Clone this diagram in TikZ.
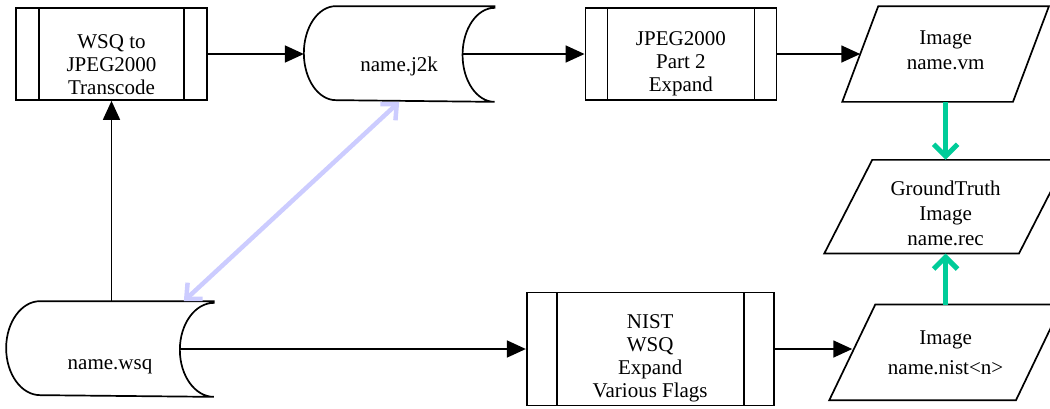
\documentclass[tikz,border=0pt]{standalone}
\usepackage{fontspec}
\setmainfont{Liberation Serif}
\usepackage{xcolor}
\usepackage{tikz}
\usetikzlibrary{arrows.meta, positioning, calc}

\definecolor{flowgreen}{HTML}{00CC99}
\definecolor{linklilac}{HTML}{CCCCFF}

\newcommand{\tstrut}[1]{\rule{0pt}{#1}}
\newcommand{\bstrut}[1]{\rule[-#1]{0pt}{#1}}
% stored data outline round a named node
\newcommand{\storeline}[2]{\draw (#1.north east) -- ([xshift=#2]#1.north west)
    arc[start angle=90, end angle=270, x radius=#2, y radius=47pt] -- (#1.south east)
    arc[start angle=270, end angle=90, x radius=#2, y radius=47pt] -- cycle;}
% parallelogram outline round a named node
\newcommand{\paraline}[2]{\draw ([xshift=#2/2]#1.north west) -- ([xshift=#2/2]#1.north east)
    -- ([xshift=-#2/2]#1.south east) -- ([xshift=-#2/2]#1.south west) -- cycle;}

\begin{document}
\begin{tikzpicture}[x=1pt, y=1pt, >={Triangle[length=19pt,width=17pt]}, line width=1.7pt]
    \tikzstyle{proc} = [rectangle, draw, inner sep=0pt, align=center, font=\fontsize{21}{23}\selectfont]
    \tikzstyle{store} = [rectangle, inner sep=0pt, align=center, font=\fontsize{21}{23}\selectfont]
    \tikzstyle{data} = [rectangle, inner sep=0pt, align=center, font=\fontsize{21}{23}\selectfont]
    \tikzstyle{green} = [flowgreen, line width=5pt, -{Straight Barb[length=12pt,width=24pt]}]
    \tikzset{bars/.style={path picture={
        \draw ([xshift=#1]path picture bounding box.north west) -- ([xshift=#1]path picture bounding box.south west);
        \draw ([xshift=-#1]path picture bounding box.north east) -- ([xshift=-#1]path picture bounding box.south east);}}}

    \useasboundingbox (0,0) rectangle (1050,-408);
    \clip (0,0) rectangle (1050,-408);

    \node [proc, bars=23pt, minimum width=191pt, minimum height=92pt] (tc) at (111.5,-54) {\tstrut{39pt}WSQ to\\JPEG2000\\Transcode\bstrut{5pt}};
    \node [store, minimum width=189pt, minimum height=94pt, right=96pt of tc] (j2k) {\tstrut{39pt}name.j2k\bstrut{5pt}};
    \node [proc, bars=22pt, minimum width=191pt, minimum height=92pt, right=90pt of j2k] (exp2) {\tstrut{33pt}JPEG2000\\Part 2\\Expand\bstrut{5pt}};
    \node [data, minimum width=169pt, minimum height=94pt, right=83pt of exp2] (vm) {\tstrut{15pt}Image\\[2pt]name.vm\bstrut{10pt}};
    \node [data, minimum width=193pt, minimum height=92pt, below=58pt of vm] (gt) {\tstrut{33pt}GroundTruth\\[2pt]Image\\[2pt]name.rec\bstrut{5pt}};
    \node [data, minimum width=185pt, minimum height=94pt, below=51pt of gt] (nistout) {\tstrut{19pt}Image\\[7pt]name.nist<n>\bstrut{5pt}};
    \node [store, minimum width=206pt, minimum height=94pt] (wsq) at (110,-349) {\tstrut{45pt}name.wsq\bstrut{5pt}};
    \node [proc, bars=30pt, minimum width=247pt, minimum height=113pt, right=312pt of wsq] (nistexp) {\tstrut{33pt}NIST\\WSQ\\Expand\\Various Flags\bstrut{5pt}};

    % Outlines
    \storeline{j2k}{32pt}
    \storeline{wsq}{34pt}
    \paraline{vm}{36pt}
    \paraline{gt}{48pt}
    \paraline{nistout}{46pt}

    % Connections
    \draw[->] (tc.east) -- (j2k.west);
    \draw[->] ([xshift=-32pt]j2k.east) -- (exp2.west);
    \draw[->] (exp2.east) -- (vm.west);
    \draw[->] (wsq.north -| tc.south) -- (tc.south);
    \draw[->] ([xshift=-34pt]wsq.east) -- (nistexp.west);
    \draw[->] (nistexp.east) -- (nistexp.east -| nistout.west);
    \draw[green] (vm.south) -- (gt.north);
    \draw[green] (nistout.north) -- (gt.south);
    \draw[linklilac, line width=4.5pt, {Straight Barb[length=12pt,width=22pt]}-{Straight Barb[length=12pt,width=22pt]}] (j2k.south) -- ([xshift=-30pt]wsq.north east);
\end{tikzpicture}
\end{document}
